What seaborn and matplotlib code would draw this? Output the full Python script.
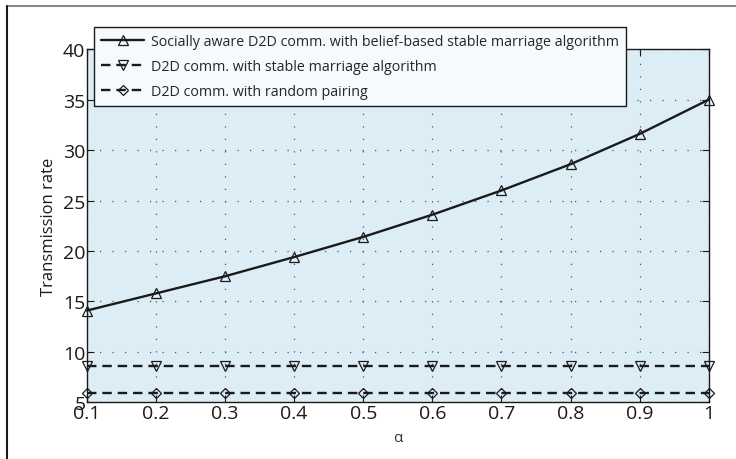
import numpy as np
import pandas as pd
import matplotlib
matplotlib.use('Agg')
import matplotlib.pyplot as plt
from matplotlib.lines import Line2D
import seaborn as sns

# Data
alpha = [0.1, 0.2, 0.3, 0.4, 0.5, 0.6, 0.7, 0.8, 0.9, 1.0]
social_belief = [14.1, 15.8, 17.5, 19.4, 21.4, 23.6, 26.0, 28.6, 31.6, 35.0]
stable_marriage = [8.6, 8.6, 8.6, 8.6, 8.6, 8.6, 8.6, 8.6, 8.6, 8.6]
random_pairing = [5.9, 5.9, 5.9, 5.9, 5.9, 5.9, 5.9, 5.9, 5.9, 5.9]

labels = ['Socially aware D2D comm. with belief-based stable marriage algorithm',
          'D2D comm. with stable marriage algorithm',
          'D2D comm. with random pairing']
xticks = [0.1, 0.2, 0.3, 0.4, 0.5, 0.6, 0.7, 0.8, 0.9, 1.0]
xticklabels = ['0.1', '0.2', '0.3', '0.4', '0.5', '0.6', '0.7', '0.8', '0.9', '1']
yticks = [5, 10, 15, 20, 25, 30, 35, 40]

sns.set_style('ticks')
plt.rcParams['font.family'] = ['Open Sans', 'DejaVu Sans']

fig = plt.figure(figsize=(7.36, 4.6), dpi=100)
ax = fig.add_axes([0.118, 0.123, 0.845, 0.768])
ax.set_facecolor('#ddedf5')

dash = (0, (4, 2.5))
series = [
    (social_belief, '^', '-', 7),
    (stable_marriage, 'v', dash, 7),
    (random_pairing, 'D', dash, 5.5),
]
for (vals, mk, ls, ms), lab in zip(series, labels):
    sns.lineplot(x=alpha, y=vals, ax=ax, color='#1a1a1a', linewidth=1.7,
                 linestyle=ls, marker=mk, markersize=ms,
                 markerfacecolor='none', markeredgecolor='#1a1a1a',
                 markeredgewidth=0.9, label=lab, legend=False, clip_on=False)

ax.set_xlim(0.1, 1.0)
ax.set_ylim(5, 40)
ax.set_xticks(xticks)
ax.set_xticklabels(xticklabels)
ax.set_yticks(yticks)
ax.tick_params(direction='in', top=True, right=True, length=5, width=0.8,
               labelsize=14, pad=1, colors='#1a1a1a')
ax.grid(True, color='#555555', linestyle=(0, (1, 9)), linewidth=0.9)
for s in ax.spines.values():
    s.set_color('#1a1a1a')
    s.set_linewidth(1.0)

ax.set_xlabel('α', fontsize=11, labelpad=6, color='#333333')
ax.set_ylabel('Transmission rate', fontsize=12, labelpad=4, color='#1a1a1a')

handles = [Line2D([], [], color='#1a1a1a', lw=1.7, ls=ls, marker=mk, ms=ms,
                  mfc='none', mew=0.9) for _, mk, ls, ms in series]
leg = ax.legend(handles, labels, loc='upper left', bbox_to_anchor=(0.012, 1.064),
                fontsize=10.3, frameon=True, fancybox=False, framealpha=1,
                edgecolor='#1a1a1a', facecolor='#f4fafd', handlelength=3.0,
                borderpad=0.5, labelspacing=0.7, handletextpad=0.45, borderaxespad=0)
leg.get_frame().set_linewidth(1.0)
leg.set_zorder(5)

# figure border lines like the original
fig.add_artist(Line2D([0.0095, 1.0], [0.985, 0.985], color='#888888', lw=1.5))
fig.add_artist(Line2D([0.0095, 0.0095], [0.0, 0.985], color='#1a1a1a', lw=1.5))

fig.savefig('out.png', dpi=100)
